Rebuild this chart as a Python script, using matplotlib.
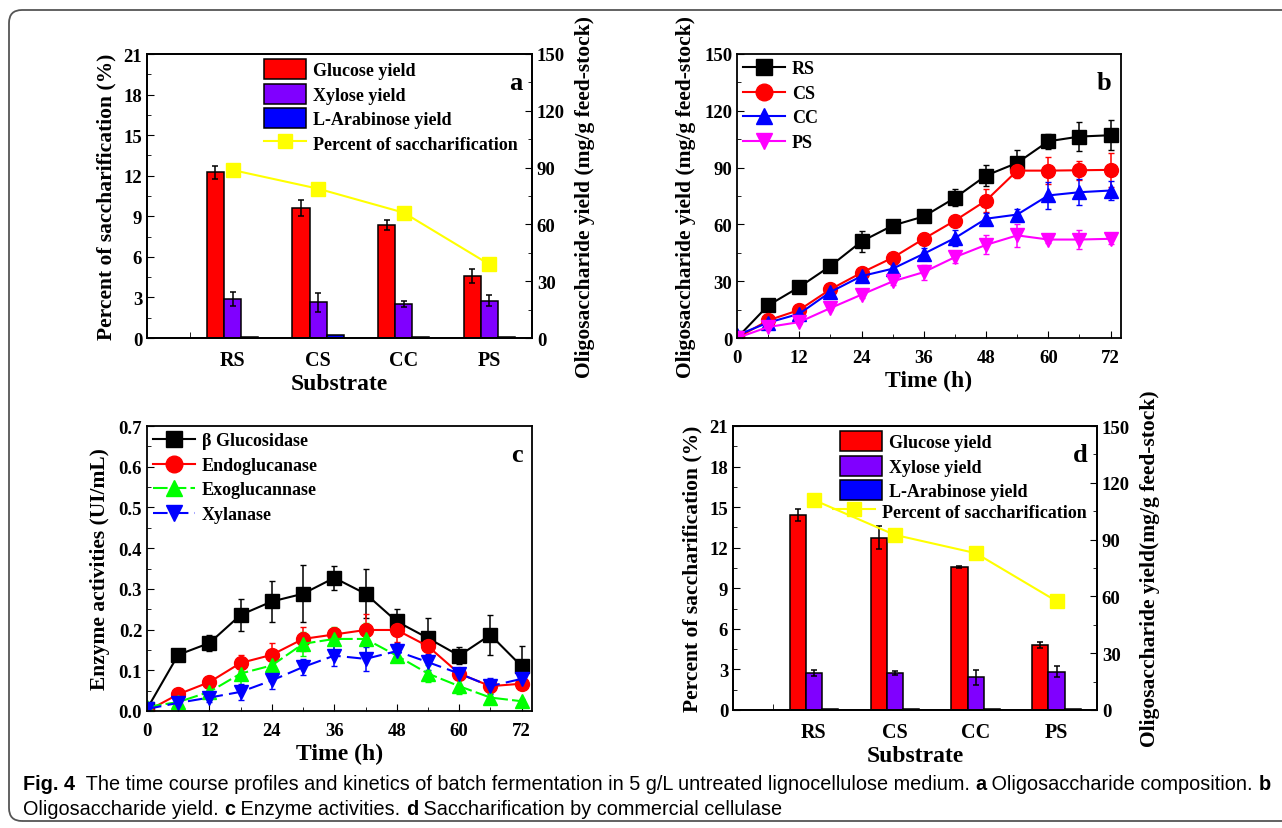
import matplotlib
matplotlib.use('Agg')
import matplotlib.pyplot as plt
import numpy as np
from matplotlib.patches import FancyBboxPatch
from matplotlib.lines import Line2D
from matplotlib.ticker import MultipleLocator, FormatStrFormatter

plt.rcParams['font.family'] = ['Liberation Serif', 'DejaVu Serif']
plt.rcParams['font.weight'] = 'bold'
plt.rcParams['axes.linewidth'] = 1.3
plt.rcParams['xtick.direction'] = 'in'
plt.rcParams['ytick.direction'] = 'in'

# ---- data ----
substrates = ['RS', 'CS', 'CC', 'PS']

# a: oligosaccharide composition (mg/g) and percent saccharification (%)
glucose_a = [87.5, 68.7, 59.7, 32.6]
glucose_a_err = [3.3, 4.1, 2.8, 3.7]
xylose_a = [20.6, 18.8, 18.0, 19.7]
xylose_a_err = [3.8, 4.9, 1.8, 2.8]
arabinose_a = [0.7, 1.8, 0.7, 0.7]
percent_a = [12.42, 11.04, 9.27, 5.45]

# d: saccharification by commercial cellulase
glucose_d = [103.0, 91.1, 75.3, 34.3]
glucose_d_err = [3.0, 6.0, 0.5, 1.5]
xylose_d = [19.5, 19.5, 17.2, 20.2]
xylose_d_err = [1.7, 1.2, 4.0, 3.0]
arabinose_d = [0.6, 0.6, 0.6, 0.6]
percent_d = [15.53, 12.95, 11.6, 8.05]

# b: oligosaccharide yield over time
hours = [0, 6, 12, 18, 24, 30, 36, 42, 48, 54, 60, 66, 72]
rs = [0, 17.2, 26.9, 38.0, 51.0, 59.4, 64.2, 74.0, 85.8, 92.5, 103.9, 106.4, 107.1]
rs_err = [0, 1, 1.5, 1.5, 5.5, 2.5, 2, 4.5, 5.5, 7, 4, 7.5, 8]
cs = [0, 9.3, 14.8, 25.7, 34.5, 42.4, 52.4, 62.0, 72.6, 88.4, 88.4, 88.6, 88.8]
cs_err = [0, 1, 1, 1, 1.5, 1.5, 3, 2, 6, 4, 7, 5, 9]
cc = [1.5, 8.1, 12.8, 24.3, 32.7, 36.6, 44.5, 52.8, 63.0, 65.2, 75.3, 77.0, 77.9]
cc_err = [0, 1, 1, 1, 1.5, 2, 3, 4, 3, 3, 7, 7, 5]
ps = [0, 5.8, 8.4, 15.8, 22.9, 29.9, 34.8, 42.7, 49.2, 54.2, 52.0, 52.0, 52.4]
ps_err = [0, 1, 1, 1, 2, 2, 4, 3, 5, 6, 2, 5, 3]

# c: enzyme activities over time
bglu = [0.005, 0.138, 0.167, 0.236, 0.269, 0.288, 0.327, 0.288, 0.22, 0.179, 0.136, 0.187, 0.110]
bglu_err = [0, 0.005, 0.02, 0.04, 0.05, 0.07, 0.03, 0.06, 0.03, 0.05, 0.02, 0.05, 0.05]
endo = [0.0, 0.041, 0.071, 0.118, 0.138, 0.177, 0.188, 0.199, 0.199, 0.159, 0.092, 0.061, 0.067]
endo_err = [0, 0.005, 0.01, 0.02, 0.03, 0.03, 0.01, 0.04, 0.03, 0.03, 0.01, 0.01, 0.01]
exo = [0.01, 0.022, 0.047, 0.092, 0.112, 0.165, 0.177, 0.177, 0.136, 0.092, 0.061, 0.033, 0.024]
exo_err = [0, 0.005, 0.02, 0.03, 0.02, 0.03, 0.03, 0.04, 0.01, 0.02, 0.02, 0.01, 0.005]
xyl = [0.005, 0.02, 0.033, 0.047, 0.075, 0.108, 0.136, 0.128, 0.147, 0.12, 0.092, 0.061, 0.079]
xyl_err = [0, 0.005, 0.01, 0.02, 0.02, 0.02, 0.025, 0.03, 0.02, 0.02, 0.01, 0.02, 0.02]

W, H = 1282, 829
fig = plt.figure(figsize=(W / 100, H / 100), dpi=100)


def box(l, r, t, b):
    return [l / W, 1 - b / H, (r - l) / W, (b - t) / H]


TICK = 13.5
LAB = 15.5
LEG = 13


def bar_panel(rect, glu, glu_err, xylo, xylo_err, arab, pct, letter, rlabel, split_legend):
    ax = fig.add_axes(rect)
    ax2 = ax.twinx()
    x = np.arange(1, len(substrates) + 1)
    w = 0.2
    ek = dict(ecolor='black', capsize=2.5, elinewidth=1.1, capthick=1.1)
    b1 = ax2.bar(x - w, glu, w, yerr=glu_err, color='#ff0000', edgecolor='black', lw=1.1, error_kw=ek, label='Glucose yield')
    b2 = ax2.bar(x, xylo, w, yerr=xylo_err, color='#8000ff', edgecolor='black', lw=1.1, error_kw=ek, label='Xylose yield')
    b3 = ax2.bar(x + w, arab, w, color='#0000ff', edgecolor='black', lw=1.1, label='L-Arabinose yield')
    ln, = ax.plot(x, pct, color='#ffff00', lw=1.5, marker='s', ms=10.5, mfc='#ffff00', mec='#ffff00',
                  label='Percent of saccharification')
    ax.set_zorder(ax2.get_zorder() + 1)
    ax.patch.set_visible(False)
    ax.set_xlim(0, 4.5)
    ax.set_ylim(0, 21)
    ax2.set_ylim(0, 150)
    ax.yaxis.set_major_locator(MultipleLocator(3))
    ax.yaxis.set_minor_locator(MultipleLocator(1.5))
    ax2.yaxis.set_major_locator(MultipleLocator(30))
    ax2.yaxis.set_minor_locator(MultipleLocator(15))
    ax.set_xticks(x)
    ax.set_xticklabels(substrates)
    ax.set_xticks([0.5], minor=True)
    ax.tick_params(axis='x', which='major', length=0, labelsize=TICK + 1, pad=9)
    ax.tick_params(axis='x', which='minor', length=4)
    ax.tick_params(axis='y', which='major', length=5, labelsize=TICK)
    ax.tick_params(axis='y', which='minor', length=3)
    ax2.tick_params(axis='y', which='major', length=5, labelsize=TICK)
    ax2.tick_params(axis='y', which='minor', length=3)
    ax.set_xlabel('Substrate', fontsize=LAB + 1.5, fontweight='bold', labelpad=2)
    ax.set_ylabel('Percent of saccharification (%)', fontsize=LAB, fontweight='bold', labelpad=5)
    ax2.set_ylabel(rlabel, fontsize=LAB, fontweight='bold', labelpad=7)
    ax.text(0.975, 0.9, letter, transform=ax.transAxes, ha='right', va='center', fontsize=19, fontweight='bold')
    lk = dict(frameon=False, fontsize=LEG, handlelength=2.3, handleheight=1.3,
              handletextpad=0.4, labelspacing=0.25, borderpad=0.1, borderaxespad=0.2)
    if split_legend:
        leg = ax.legend([b1, b2, b3], [b1.get_label(), b2.get_label(), b3.get_label()],
                        loc='upper left', bbox_to_anchor=(0.28, 1.0), **lk)
        ax.add_artist(leg)
        ax.legend([ln], [ln.get_label()], loc='upper left', bbox_to_anchor=(0.26, 0.755), **lk)
    else:
        ax.legend([b1, b2, b3, ln], [b1.get_label(), b2.get_label(), b3.get_label(), ln.get_label()],
                  loc='upper left', bbox_to_anchor=(0.29, 1.0), **lk)
    return ax


def time_panel(rect, series, ylim, ystep, yminor, fmt, ylabel, letter):
    ax = fig.add_axes(rect)
    handles = []
    for y, e, c, m, ls, lab in series:
        ax.errorbar(hours, y, yerr=e, color=c, ecolor=c, marker=m, ms=10, mfc=c, mec=c,
                    lw=1.5, ls=ls, capsize=2.5, elinewidth=1.1)
        handles.append(Line2D([], [], color=c, marker=m, ms=12, mfc=c, mec=c, lw=1.5, ls=ls, label=lab))
    ax.set_xlim(0, 74)
    ax.set_ylim(*ylim)
    ax.xaxis.set_major_locator(MultipleLocator(12))
    ax.xaxis.set_minor_locator(MultipleLocator(6))
    ax.yaxis.set_major_locator(MultipleLocator(ystep))
    ax.yaxis.set_minor_locator(MultipleLocator(yminor))
    ax.yaxis.set_major_formatter(FormatStrFormatter(fmt))
    ax.tick_params(which='major', length=5, labelsize=TICK)
    ax.tick_params(axis='x', which='major', pad=8)
    ax.tick_params(which='minor', length=3)
    ax.set_xlabel('Time (h)', fontsize=LAB + 1.5, fontweight='bold', labelpad=3)
    ax.set_ylabel(ylabel, fontsize=LAB, fontweight='bold', labelpad=6)
    ax.text(0.975, 0.9, letter, transform=ax.transAxes, ha='right', va='center', fontsize=19, fontweight='bold')
    ax.legend(handles=handles, loc='upper left', frameon=False, fontsize=LEG, handlelength=2.3,
              handletextpad=0.4, labelspacing=0.42, borderpad=0.1, borderaxespad=0.25)
    return ax


bar_panel(box(147, 532, 55, 339), glucose_a, glucose_a_err, xylose_a, xylose_a_err, arabinose_a, percent_a,
          'a', 'Oligosaccharide yield (mg/g feed-stock)', False)

time_panel(box(737, 1121, 55, 339),
           [(rs, rs_err, 'black', 's', '-', 'RS'),
            (cs, cs_err, '#ff0000', 'o', '-', 'CS'),
            (cc, cc_err, '#0000ff', '^', '-', 'CC'),
            (ps, ps_err, '#ff00ff', 'v', '-', 'PS')],
           (0, 150), 30, 15, '%d', 'Oligosaccharide yield (mg/g feed-stock)', 'b')

time_panel(box(147, 532, 427, 712),
           [(bglu, bglu_err, 'black', 's', '-', '\u03b2 Glucosidase'),
            (endo, endo_err, '#ff0000', 'o', '-', 'Endoglucanase'),
            (exo, exo_err, '#00ff00', '^', (0, (7, 2)), 'Exoglucannase'),
            (xyl, xyl_err, '#0000ff', 'v', (0, (7, 3)), 'Xylanase')],
           (0, 0.7), 0.1, 0.05, '%.1f', 'Enzyme activities (UI/mL)', 'c')

bar_panel(box(733, 1097, 427, 711), glucose_d, glucose_d_err, xylose_d, xylose_d_err, arabinose_d, percent_d,
          'd', 'Oligosaccharide yield(mg/g feed-stock)', True)

# frame around the figure
frame = FancyBboxPatch((0.09, 0.07), 13.0, 8.11, boxstyle='round,pad=0,rounding_size=0.13',
                       transform=fig.dpi_scale_trans, fill=False, ec='#555555', lw=1.3)
fig.add_artist(frame)

# caption, written as runs of regular and bold text, sized so line 1 spans the reference width
cap_font = ['Liberation Sans', 'DejaVu Sans']
line1 = [('Fig. 4', 'bold'), ('  The time course profiles and kinetics of batch fermentation in 5 g/L untreated '
                              'lignocellulose medium. ', 'normal'),
         ('a', 'bold'), (' Oligosaccharide composition. ', 'normal'), ('b', 'bold')]
line2 = [('Oligosaccharide yield. ', 'normal'), ('c', 'bold'), (' Enzyme activities. ', 'normal'),
         ('d', 'bold'), (' Saccharification by commercial cellulase', 'normal')]

renderer = fig.canvas.get_renderer()


def draw_runs(runs, ypix, size):
    xpix = 23
    texts = []
    for s, wt in runs:
        t = fig.text(xpix / W, 1 - ypix / H, s, fontsize=size, fontweight=wt, family=cap_font,
                     ha='left', va='center')
        xpix += t.get_window_extent(renderer).width
        texts.append(t)
    return xpix, texts


end, tmp = draw_runs(line1, 785, 13)
cap_size = 13 * (1265 - 23) / (end - 23)
for t in tmp:
    t.remove()
draw_runs(line1, 785, cap_size)
draw_runs(line2, 810, cap_size)

fig.savefig('out.png', dpi=100)
